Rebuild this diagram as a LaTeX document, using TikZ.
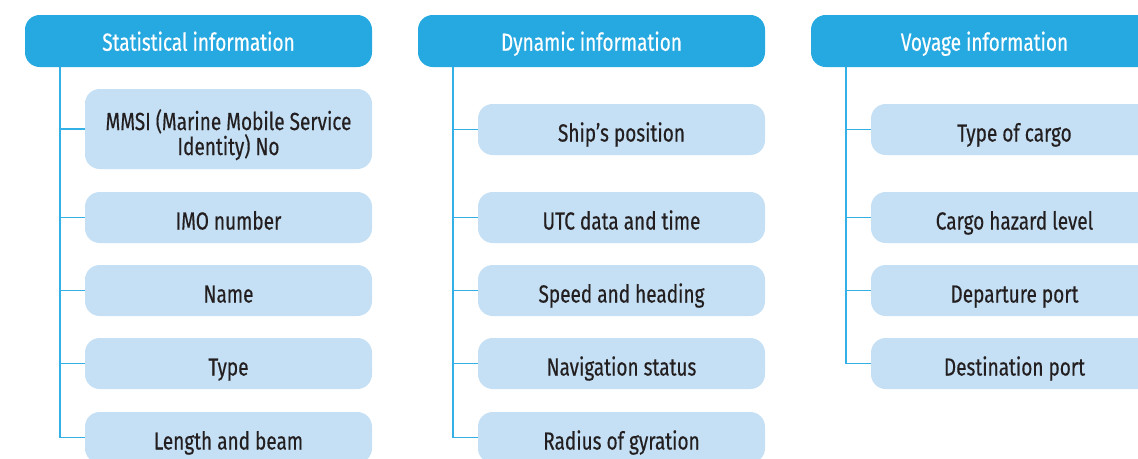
\documentclass[tikz,border=0pt]{standalone}
\usepackage{fontspec}
\setmainfont[FakeStretch=0.77,FakeBold=0.4]{Fira Sans}

\begin{document}
\begin{tikzpicture}[x=0.75pt,y=-0.75pt,
  headbox/.style={rounded corners=11pt,fill=headblue,text=white,
    minimum width=260.25pt,minimum height=39pt,inner sep=0pt,
    text height=14.6pt,text depth=0pt,
    font=\fontsize{18.5}{18.75}\selectfont},
  itembox/.style={rounded corners=11pt,fill=itemblue,text=itemtext,
    minimum width=215.25pt,minimum height=38.25pt,inner sep=0pt,align=center,
    text height=18pt,text depth=0pt,
    font=\fontsize{18.5}{18.75}\selectfont},
  conn/.style={draw=lineblue,line width=1.4pt}]
\definecolor{headblue}{rgb}{0.149, 0.663, 0.878}
\definecolor{itemblue}{rgb}{0.773, 0.878, 0.957}
\definecolor{lineblue}{rgb}{0.200, 0.690, 0.900}
\definecolor{itemtext}{rgb}{0.137, 0.122, 0.125}
\clip (0,0) rectangle (1138,458);
% statistical information
\node[headbox] (h1) at (198.5,41) {Statistical information};
\coordinate (t1) at (60,67);
\node[itembox,minimum height=60pt,text height=39pt] (s1) at (228.5,129) {MMSI (Marine Mobile Service\\Identity) No};
\node[itembox] (s2) at (228.5,217.5) {IMO number};
\node[itembox] (s3) at (228.5,290.5) {Name};
\node[itembox] (s4) at (228.5,363.5) {Type};
\node[itembox] (s5) at (228.5,437.5) {Length and beam};
\foreach \n in {s1,s2,s3,s4,s5}
  \draw[conn] (t1) |- (\n.west);
% dynamic information
\node[headbox] (h2) at (591.5,41) {Dynamic information};
\coordinate (t2) at (453,67);
\node[itembox] (d1) at (621.5,129.5) {Ship’s position};
\node[itembox] (d2) at (621.5,217.5) {UTC data and time};
\node[itembox] (d3) at (621.5,290.5) {Speed and heading};
\node[itembox] (d4) at (621.5,363.5) {Navigation status};
\node[itembox] (d5) at (621.5,437.5) {Radius of gyration};
\foreach \n in {d1,d2,d3,d4,d5}
  \draw[conn] (t2) |- (\n.west);
% voyage information
\node[headbox] (h3) at (984.5,41) {Voyage information};
\coordinate (t3) at (846,67);
\node[itembox] (v1) at (1014.5,129.5) {Type of cargo};
\node[itembox] (v2) at (1014.5,217.5) {Cargo hazard level};
\node[itembox] (v3) at (1014.5,290.5) {Departure port};
\node[itembox] (v4) at (1014.5,363.5) {Destination port};
\foreach \n in {v1,v2,v3,v4}
  \draw[conn] (t3) |- (\n.west);
\end{tikzpicture}
\end{document}
